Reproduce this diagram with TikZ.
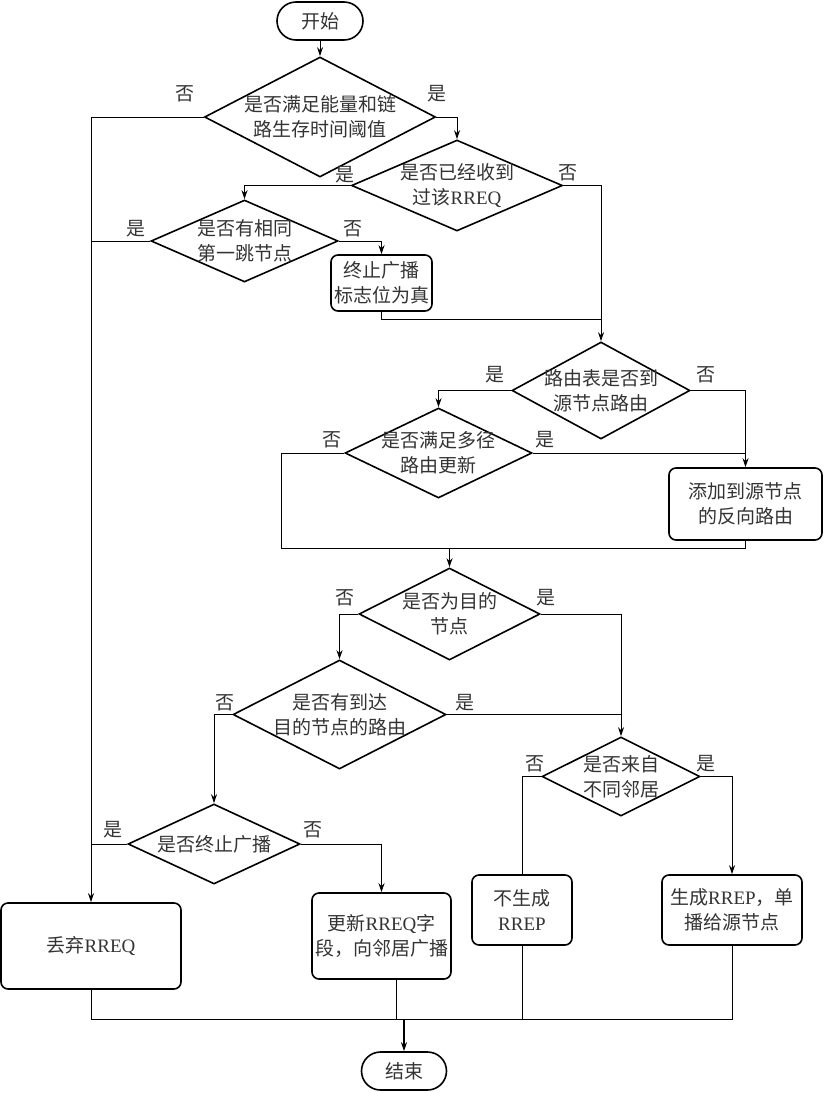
\documentclass[tikz,border=0pt]{standalone}
\usepackage{fontspec}
\setmainfont{Noto Sans CJK SC}
\newfontfamily\latinfont{Liberation Serif}
\usetikzlibrary{arrows.meta,shapes.geometric,calc}
\newcommand{\rr}[1]{{\latinfont #1}}

\begin{document}
\begin{tikzpicture}[
  x=1pt,y=-1pt,
  every node/.style={font=\fontsize{19}{25}\selectfont,text=black!80},
  terminal/.style={draw,line width=1.6pt,rounded corners=19pt,minimum height=38pt},
  decision/.style={diamond,draw,line width=1.6pt,inner sep=0pt},
  dtext/.style={align=center,inner sep=0pt},
  process/.style={draw,line width=1.6pt,rounded corners=7pt,align=center,inner sep=2pt},
  yesno/.style={inner sep=0pt},
  flow/.style={line width=0.9pt},
  arrow/.style={flow,-{Stealth[length=9pt,width=6pt]}}
]
  \useasboundingbox (0,0) rectangle (823,1093);

  % start and end
  \node[terminal,minimum width=86pt] (start) at (320,21) {开始};
  \node[terminal,minimum width=85pt] (stop) at (404,1071) {结束};

  % decisions
  \node[decision,minimum width=231pt,minimum height=120pt,
    label={[dtext]center:{是否满足能量和链\\路生存时间阈值}}] (energy) at (320,117) {};
  \node[decision,minimum width=211pt,minimum height=91pt,
    label={[dtext]center:{是否已经收到\\过该\rr{RREQ}}}] (seen) at (457,185.5) {};
  \node[decision,minimum width=187pt,minimum height=82pt,
    label={[dtext]center:{是否有相同\\第一跳节点}}] (samehop) at (244.5,241) {};
  \node[decision,minimum width=178pt,minimum height=97pt,
    label={[dtext]center:{路由表是否到\\源节点路由}}] (table) at (601,390.5) {};
  \node[decision,minimum width=187pt,minimum height=90pt,
    label={[dtext]center:{是否满足多径\\路由更新}}] (multi) at (438.5,453) {};
  \node[decision,minimum width=181pt,minimum height=92pt,
    label={[dtext]center:{是否为目的\\节点}}] (dest) at (449.5,614) {};
  \node[decision,minimum width=213pt,minimum height=109pt,
    label={[dtext]center:{是否有到达\\目的节点的路由}}] (route) at (339.5,714.5) {};
  \node[decision,minimum width=158pt,minimum height=79pt,
    label={[dtext]center:{是否来自\\不同邻居}}] (neigh) at (621,776.5) {};
  \node[decision,minimum width=172pt,minimum height=80pt,
    label={[dtext]center:{是否终止广播}}] (stopbc) at (214,844) {};

  % actions
  \node[process,minimum width=101pt,minimum height=56pt] (flag) at (381.5,283) {终止广播\\标志位为真};
  \node[process,minimum width=153pt,minimum height=72pt] (addrev) at (745.5,504) {添加到源节点\\的反向路由};
  \node[process,minimum width=180pt,minimum height=86pt] (drop) at (91,946) {丢弃\rr{RREQ}};
  \node[process,minimum width=139pt,minimum height=86pt] (update) at (381.5,936) {更新\rr{RREQ}字\\段，向邻居广播};
  \node[process,minimum width=100pt,minimum height=70pt] (norep) at (522,910) {不生成\\\rr{RREP}};
  \node[process,minimum width=140pt,minimum height=70pt] (rep) at (732,910) {生成\rr{RREP}，单\\播给源节点};

  % yes / no
  \node[yesno] (energyN) at (185,94) {否};
  \node[yesno] (energyY) at (437,94) {是};
  \node[yesno] (seenY) at (345,175) {是};
  \node[yesno] (seenN) at (568,173) {否};
  \node[yesno] (samehopY) at (136,229) {是};
  \node[yesno] (samehopN) at (353,229) {否};
  \node[yesno] (tableY) at (495,375) {是};
  \node[yesno] (tableN) at (706,375) {否};
  \node[yesno] (multiN) at (332,440) {否};
  \node[yesno] (multiY) at (545,440) {是};
  \node[yesno] (destN) at (345,598) {否};
  \node[yesno] (destY) at (546,598) {是};
  \node[yesno] (routeN) at (225,703) {否};
  \node[yesno] (routeY) at (465,703) {是};
  \node[yesno] (neighN) at (535,764) {否};
  \node[yesno] (neighY) at (706,764) {是};
  \node[yesno] (stopbcY) at (113,830) {是};
  \node[yesno] (stopbcN) at (313,830) {否};

  % joints
  \coordinate (j1) at (601,319);
  \coordinate (j2) at (281,548);
  \coordinate (j3) at (745.5,548);
  \coordinate (j5) at (732,1019);

  % connectors
  \draw[arrow] (start) -- (energy);
  \draw[arrow] (energy.west) -| (drop.north);
  \draw[arrow] (energy.east) -| (seen.north);
  \draw[arrow] (seen.west) -| (samehop.north);
  \draw[arrow] (seen.east) -| (table.north);
  \draw[flow] (samehop.west) -- (samehop.west -| drop.north);
  \draw[arrow] (samehop.east) -| (flag.north);
  \draw[flow] (flag.south) |- (j1);
  \draw[arrow] (table.west) -| (multi.north);
  \draw[arrow] (table.east) -| (addrev.north);
  \draw[flow] (multi.east) -- (multi.east -| addrev.north);
  \draw[flow] (multi.west) -| (j2) -- (j3) -- (addrev.south);
  \draw[arrow] (j2 -| dest.north) -- (dest.north);
  \draw[arrow] (dest.west) -| (route.north);
  \draw[arrow] (dest.east) -| (neigh.north);
  \draw[flow] (route.east) -- (route.east -| neigh.north);
  \draw[arrow] (route.west) -| (stopbc.north);
  \draw[flow] (stopbc.west) -- (stopbc.west -| drop.north);
  \draw[arrow] (stopbc.east) -| (update.north);
  \draw[flow] (neigh.west) -| (norep.north);
  \draw[arrow] (neigh.east) -| (rep.north);
  \draw[flow] (drop.south) |- (j5) -- (rep.south);
  \draw[flow] ([xshift=14.5pt]update.south) -- ([xshift=14.5pt]update.south |- j5);
  \draw[flow] (norep.south) -- (norep.south |- j5);
  \draw[arrow,line width=1.6pt] (stop.north |- j5) -- (stop.north);
\end{tikzpicture}
\end{document}
